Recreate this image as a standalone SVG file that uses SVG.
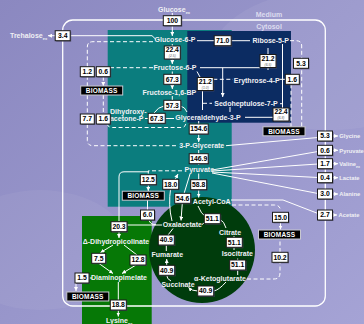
<svg xmlns="http://www.w3.org/2000/svg" width="364" height="324" viewBox="0 0 364 324">
<defs>
<linearGradient id="bg" x1="0" y1="0" x2="1" y2="1">
<stop offset="0" stop-color="#8b88c0"/>
<stop offset="0.5" stop-color="#9896cb"/>
<stop offset="1" stop-color="#a5a3d5"/>
</linearGradient>
<marker id="ah" viewBox="0 0 6 6" refX="6" refY="3" markerWidth="4" markerHeight="4" orient="auto" markerUnits="userSpaceOnUse">
<path d="M0,0 L6,3 L0,6 z" fill="#fff"/>
</marker>
<style>
.l{font-family:"Liberation Sans",Arial,sans-serif;font-weight:bold;font-size:7px;fill:#f0f0f4;text-anchor:middle}
.ls{font-family:"Liberation Sans",Arial,sans-serif;font-weight:bold;font-size:7px;fill:#f0f0f4}
.ex{font-family:"Liberation Sans",Arial,sans-serif;font-weight:bold;font-size:5.8px;fill:#f0f0f4}
.hd{font-family:"Liberation Sans",Arial,sans-serif;font-weight:bold;font-size:7px;fill:#dcdcef;text-anchor:middle}
.n{font-family:"Liberation Sans",Arial,sans-serif;font-weight:bold;font-size:6.8px;fill:#000;text-anchor:middle}
.s{font-family:"Liberation Sans",Arial,sans-serif;font-style:italic;font-size:3.4px;fill:#666;text-anchor:middle}
.bx{fill:#fff;stroke:#1a1a1a;stroke-width:1}
.sh{fill:#4b4a66;opacity:0.7}
.bm{fill:#000;stroke:#c8c8d0;stroke-width:1}
.bt{font-family:"Liberation Sans",Arial,sans-serif;font-weight:bold;font-size:6.5px;fill:#fff;text-anchor:middle;letter-spacing:0.2px}
.c{stroke:#fff;stroke-width:1;fill:none}
.d{stroke:#fff;stroke-width:1;fill:none;stroke-dasharray:4 2.5}
.a{marker-end:url(#ah)}
</style>
</defs>
<rect width="364" height="324" fill="url(#bg)"/>
<ellipse cx="330" cy="60" rx="120" ry="70" fill="#fff" opacity="0.06"/>
<ellipse cx="40" cy="250" rx="90" ry="60" fill="#fff" opacity="0.05"/>

<g id="regions">
<rect id="glycolysis" x="107.7" y="30" width="124" height="176.7" fill="#0b7d7e"/>
<rect id="ppp" x="187.3" y="31" width="103.7" height="91.7" fill="#0c2c62"/>
<rect id="lysine" x="82" y="216" width="69.7" height="108" fill="#067806"/>
<circle id="tca" cx="202" cy="250" r="53" fill="#003c0c"/>
</g>
<rect id="membrane" x="62.7" y="20" width="262.6" height="286" rx="10" fill="none" stroke="#fff" stroke-width="1.3"/>

<g id="connectors">
<path class="c a" d="M172.3,13 V36"/>
<path class="c a" d="M156,39.5 L152,35.7 H48"/>
<path class="c" d="M197,40.7 H250"/>
<path class="c a" d="M172.3,44 V64"/>
<path class="c a" d="M172.3,71.5 V89"/>
<path class="c" d="M172.3,96 V100"/>
<path class="c" d="M164,106 Q158,107 154,113"/>
<path class="c" d="M180.5,106 Q185,107 187,112"/>
<path class="c" d="M145,118.5 H174"/>
<path class="c a" d="M198.7,121 V142"/>
<path class="c a" d="M198.7,150 V165"/>
<path class="c a" d="M198.7,173.5 V197.5"/>
<path class="c a" d="M190,174 L182.7,198 L181,220.5"/>
<path class="c a" d="M172,221 Q168,205 170.7,188 L178,174"/>
<path class="c" d="M119,221 V177 Q119,171.8 124,171.8 H149"/>
<path class="d" d="M182,170.8 H148.3 V175"/>
<path class="c a" d="M148.3,184.7 V191"/>
<path class="c" d="M162,225 H127"/>
<path class="c" d="M147.5,200 V210 M149,220 Q150,224.5 156,224.8"/>
<path class="c" d="M198,206 Q201,214 206,217 M220,219.5 Q224,221 226,228"/>
<path class="c" d="M202,224.5 L205.5,222"/>
<path class="c" d="M234,236 V250"/>
<path class="c" d="M237.7,258.5 V275"/>
<path class="c a" d="M226,282 Q219,290 213.7,291 M197.7,291 Q192,291 188.5,287.5"/>
<path class="c a" d="M171,281 Q166.7,279 166.7,275 M166.7,265.3 V259"/>
<path class="c" d="M166.3,251 V245 M168,235 L173,228.5"/>
<path class="c" d="M200,67.7 H260"/>
<path class="c a" d="M222.7,67.7 V97"/>
<path class="c" d="M268,48 V70"/>
<path class="c" d="M282.5,44 V108"/>
<path class="c" d="M197,71.5 L200,77"/>
<path class="d" d="M213.3,79.3 H233"/>
<path class="c" d="M202.5,90.5 V110"/>
<path class="d" d="M203,103.3 H212"/>
<path class="c" d="M280,103.7 H282.5"/>
<path class="c" d="M230,107 V112"/>
<path class="c" d="M245,117.3 H273"/>
<path class="c" d="M279.5,79.3 H285"/>
<path class="d" d="M290,40.7 H296 Q301.7,40.7 301.7,46 V127"/>
<path class="d" d="M291,84.3 V127"/>
<path class="d" d="M153,41.7 H93 Q87.3,41.7 87.3,47 V114 M87.3,124 V140 Q87.3,145.7 93,145.7 H178"/>
<path class="d" d="M153,67.7 H110"/>
<path class="d a" d="M103.3,76.7 V86"/>
<path class="d" d="M103.3,95 V114"/>
<path class="d" d="M107,124 Q108,127.5 113,127.5 H181 Q186,127.5 186,122"/>
<path class="c" d="M226,145.7 L318,137.5"/>
<path class="c" d="M212,170 L318,151.5 M212,171 L318,164 M212,172 L318,177.5 M212,173 L318,193.5"/>
<path class="c" d="M231,200 H283 L318,213.5"/>
<path class="c a" d="M332.5,136 H338"/>
<path class="c a" d="M332.5,150.3 H338"/>
<path class="c a" d="M332.5,163.7 H338"/>
<path class="c a" d="M332.5,177.7 H338"/>
<path class="c a" d="M332.5,194 H338"/>
<path class="c a" d="M332.5,215 H337"/>
<path class="d" d="M232,205 H274 Q280.5,205 280.5,211"/>
<path class="c a" d="M280.5,222.5 V229.5"/>
<path class="d" d="M247,279 H274 Q280,279 280,273 V262.5 M280,252 V239"/>
<path class="c a" d="M119,232 V238"/>
<path class="c a" d="M113,245 L100.5,252.5"/>
<path class="c" d="M124,245 L137,255"/>
<path class="c a" d="M99,263.5 L113,273.5"/>
<path class="c a" d="M136,265 L122,273.5"/>
<path class="c" d="M89,278 H92"/>
<path class="d a" d="M76,283 V291"/>
<path class="c" d="M118.3,282 V300"/>
<path class="c a" d="M118.3,310 V316.5"/>
</g>

<g id="labels">
<text class="hd" x="269" y="17">Medium</text>
<text class="hd" x="269" y="29">Cytosol</text>
<text id="glc-ex" class="ls" x="158" y="11.5">Glucose<tspan font-size="4" dy="2">ex</tspan></text>
<text id="tre-ex" class="ls" x="10" y="38">Trehalose<tspan font-size="4" dy="2">ex</tspan></text>
<text id="g6p" class="l" x="175" y="42.2">Glucose-6-P</text>
<text id="r5p" class="l" x="270.7" y="43.2">Ribose-5-P</text>
<text id="f6p" class="l" x="175" y="70.2">Fructose-6-P</text>
<text id="e4p" class="l" x="256.7" y="82.5">Erythrose-4-P</text>
<text id="fbp" class="l" x="169.3" y="95.2">Fructose-1,6-BP</text>
<text id="s7p" class="l" x="246" y="106.2">Sedoheptulose-7-P</text>
<text id="dhap" class="l" x="128.3" y="113.5">Dihydroxy-<tspan x="126.7" y="121.2">acetone-P</tspan></text>
<text id="gap" class="l" x="208" y="119.8">Glyceraldehyde-3-P</text>
<text id="pg3" class="l" x="201.7" y="148.2">3-P-Glycerate</text>
<text id="pyr" class="l" x="199.3" y="171.8">Pyruvate</text>
<text id="accoa" class="l" x="211.7" y="204.2">Acetyl-CoA</text>
<text id="oaa" class="l" x="182.3" y="227.2">Oxalacetate</text>
<text id="cit" class="l" x="230" y="234.8">Citrate</text>
<text id="icit" class="l" x="237.3" y="256.2">Isocitrate</text>
<text id="fum" class="l" x="167.3" y="257.2">Fumarate</text>
<text id="akg" class="l" x="220" y="281.2">α-Ketoglutarate</text>
<text id="suc" class="l" x="178" y="287.2">Succinate</text>
<text id="dhp" class="l" x="116" y="243.8">Δ-Dihydropicolinate</text>
<text id="dap" class="l" x="119" y="280.2">Diaminopimelate</text>
<text id="lys" class="ls" x="106" y="322.5">Lysine<tspan font-size="4" dy="2">ex</tspan></text>
<text id="gly-ex" class="ex" x="339.3" y="138.2">Glycine</text>
<text id="pyr-ex" class="ex" x="339.3" y="152.5">Pyruvate</text>
<text id="val-ex" class="ex" x="339.3" y="165.9">Valine<tspan font-size="3.6" dy="1.8">ex</tspan></text>
<text id="lac-ex" class="ex" x="339.3" y="179.9">Lactate</text>
<text id="ala-ex" class="ex" x="339.3" y="196.2">Alanine</text>
<text id="ace-ex" class="ex" x="338.5" y="217.2">Acetate</text>
</g>

<g id="biomass">
<g id="bm1"><rect class="bm" x="80.7" y="86" width="42" height="9"/><text class="bt" x="101.7" y="92.8">BIOMASS</text></g>
<g id="bm2"><rect class="bm" x="263" y="126.8" width="42" height="9"/><text class="bt" x="284" y="133.6">BIOMASS</text></g>
<g id="bm3"><rect class="bm" x="122.3" y="191.2" width="42" height="9"/><text class="bt" x="143.3" y="198">BIOMASS</text></g>
<g id="bm4"><rect class="bm" x="258.5" y="230" width="42" height="9"/><text class="bt" x="279.5" y="236.8">BIOMASS</text></g>
<g id="bm5"><rect class="bm" x="66.8" y="292" width="42" height="9"/><text class="bt" x="87.8" y="298.8">BIOMASS</text></g>
</g>

<g id="fluxes">
<g id="f1"><rect class="sh" x="164.3" y="16.7" width="18" height="10"/><rect class="bx" x="163.3" y="15.7" width="18" height="10"/><text class="n" x="172.3" y="23">100</text></g>
<g id="f2"><rect class="sh" x="56.2" y="31.7" width="15" height="10"/><rect class="bx" x="55.2" y="30.7" width="15" height="10"/><text class="n" x="62.7" y="38">3.4</text></g>
<g id="f3"><rect class="sh" x="215.2" y="36.7" width="17" height="10"/><rect class="bx" x="214.2" y="35.7" width="17" height="10"/><text class="n" x="222.7" y="43">71.0</text></g>
<g id="f4"><rect class="sh" x="165.3" y="47" width="16" height="13"/><rect class="bx" x="164.3" y="46" width="16" height="13"/><text class="n" x="172.3" y="52.3">22.4</text><text class="s" x="172.3" y="57.2">(2.5)</text></g>
<g id="f5"><rect class="sh" x="294.5" y="59.3" width="15" height="10"/><rect class="bx" x="293.5" y="58.3" width="15" height="10"/><text class="n" x="301" y="65.6">5.3</text></g>
<g id="f6"><rect class="sh" x="261" y="55.5" width="16" height="13"/><rect class="bx" x="260" y="54.5" width="16" height="13"/><text class="n" x="268" y="60.8">21.2</text><text class="s" x="268" y="65.7">(6.5)</text></g>
<g id="f7"><rect class="sh" x="81.3" y="67.7" width="14" height="10"/><rect class="bx" x="80.3" y="66.7" width="14" height="10"/><text class="n" x="87.3" y="74">1.2</text></g>
<g id="f8"><rect class="sh" x="97.3" y="67.7" width="14" height="10"/><rect class="bx" x="96.3" y="66.7" width="14" height="10"/><text class="n" x="103.3" y="74">0.6</text></g>
<g id="f9"><rect class="sh" x="164.8" y="75.3" width="17" height="10"/><rect class="bx" x="163.8" y="74.3" width="17" height="10"/><text class="n" x="172.3" y="81.6">67.3</text></g>
<g id="f10"><rect class="sh" x="198.3" y="78.5" width="16" height="13"/><rect class="bx" x="197.3" y="77.5" width="16" height="13"/><text class="n" x="205.3" y="83.8">21.2</text><text class="s" x="205.3" y="88.7">(1.0)</text></g>
<g id="f11"><rect class="sh" x="286.3" y="75.3" width="14" height="10"/><rect class="bx" x="285.3" y="74.3" width="14" height="10"/><text class="n" x="292.3" y="81.6">1.6</text></g>
<g id="f12"><rect class="sh" x="164.8" y="101.3" width="17" height="10"/><rect class="bx" x="163.8" y="100.3" width="17" height="10"/><text class="n" x="172.3" y="107.6">57.3</text></g>
<g id="f13"><rect class="sh" x="81.3" y="115" width="14" height="10"/><rect class="bx" x="80.3" y="114" width="14" height="10"/><text class="n" x="87.3" y="121.3">7.7</text></g>
<g id="f14"><rect class="sh" x="97.3" y="115" width="14" height="10"/><rect class="bx" x="96.3" y="114" width="14" height="10"/><text class="n" x="103.3" y="121.3">1.6</text></g>
<g id="f15"><rect class="sh" x="149.2" y="114.3" width="17" height="10"/><rect class="bx" x="148.2" y="113.3" width="17" height="10"/><text class="n" x="156.7" y="120.6">67.3</text></g>
<g id="f16"><rect class="sh" x="274" y="109" width="16" height="13"/><rect class="bx" x="273" y="108" width="16" height="13"/><text class="n" x="281" y="114.3">22.4</text><text class="s" x="281" y="119.2">(6.8)</text></g>
<g id="f17"><rect class="sh" x="190.2" y="125" width="19" height="10"/><rect class="bx" x="189.2" y="124" width="19" height="10"/><text class="n" x="198.7" y="131.3">154.6</text></g>
<g id="f18"><rect class="sh" x="318.5" y="132" width="15" height="10"/><rect class="bx" x="317.5" y="131" width="15" height="10"/><text class="n" x="325" y="138.3">5.3</text></g>
<g id="f19"><rect class="sh" x="318.5" y="146.3" width="15" height="10"/><rect class="bx" x="317.5" y="145.3" width="15" height="10"/><text class="n" x="325" y="152.6">0.6</text></g>
<g id="f20"><rect class="sh" x="318.5" y="159.7" width="15" height="10"/><rect class="bx" x="317.5" y="158.7" width="15" height="10"/><text class="n" x="325" y="166">1.7</text></g>
<g id="f21"><rect class="sh" x="318.5" y="173.7" width="15" height="10"/><rect class="bx" x="317.5" y="172.7" width="15" height="10"/><text class="n" x="325" y="180">0.4</text></g>
<g id="f22"><rect class="sh" x="318.5" y="190" width="15" height="10"/><rect class="bx" x="317.5" y="189" width="15" height="10"/><text class="n" x="325" y="196.3">3.0</text></g>
<g id="f23"><rect class="sh" x="318.5" y="211" width="15" height="10"/><rect class="bx" x="317.5" y="210" width="15" height="10"/><text class="n" x="325" y="217.3">2.7</text></g>
<g id="f24"><rect class="sh" x="190.2" y="154.7" width="19" height="10"/><rect class="bx" x="189.2" y="153.7" width="19" height="10"/><text class="n" x="198.7" y="161">146.9</text></g>
<g id="f25"><rect class="sh" x="141.3" y="175.7" width="16" height="10"/><rect class="bx" x="140.3" y="174.7" width="16" height="10"/><text class="n" x="148.3" y="182">12.5</text></g>
<g id="f26"><rect class="sh" x="163.7" y="180.3" width="16" height="10"/><rect class="bx" x="162.7" y="179.3" width="16" height="10"/><text class="n" x="170.7" y="186.6">18.0</text></g>
<g id="f27"><rect class="sh" x="191.7" y="180.7" width="16" height="10"/><rect class="bx" x="190.7" y="179.7" width="16" height="10"/><text class="n" x="198.7" y="187">58.8</text></g>
<g id="f28"><rect class="sh" x="175.7" y="194.3" width="16" height="10"/><rect class="bx" x="174.7" y="193.3" width="16" height="10"/><text class="n" x="182.7" y="200.6">54.6</text></g>
<g id="f29"><rect class="sh" x="141.5" y="211" width="14" height="10"/><rect class="bx" x="140.5" y="210" width="14" height="10"/><text class="n" x="147.5" y="217.3">6.0</text></g>
<g id="f30"><rect class="sh" x="205.3" y="214.7" width="16" height="10"/><rect class="bx" x="204.3" y="213.7" width="16" height="10"/><text class="n" x="212.3" y="221">51.1</text></g>
<g id="f31"><rect class="sh" x="273.5" y="213.3" width="16" height="10"/><rect class="bx" x="272.5" y="212.3" width="16" height="10"/><text class="n" x="280.5" y="219.6">15.0</text></g>
<g id="f32"><rect class="sh" x="112" y="222.7" width="16" height="10"/><rect class="bx" x="111" y="221.7" width="16" height="10"/><text class="n" x="119" y="229">20.3</text></g>
<g id="f33"><rect class="sh" x="159.3" y="236" width="16" height="10"/><rect class="bx" x="158.3" y="235" width="16" height="10"/><text class="n" x="166.3" y="242.3">40.9</text></g>
<g id="f34"><rect class="sh" x="227.3" y="238.3" width="16" height="10"/><rect class="bx" x="226.3" y="237.3" width="16" height="10"/><text class="n" x="234.3" y="244.6">51.1</text></g>
<g id="f35"><rect class="sh" x="273" y="253.3" width="16" height="10"/><rect class="bx" x="272" y="252.3" width="16" height="10"/><text class="n" x="280" y="259.6">10.2</text></g>
<g id="f36"><rect class="sh" x="92.7" y="254.3" width="14" height="10"/><rect class="bx" x="91.7" y="253.3" width="14" height="10"/><text class="n" x="98.7" y="260.6">7.5</text></g>
<g id="f37"><rect class="sh" x="131" y="256" width="16" height="10"/><rect class="bx" x="130" y="255" width="16" height="10"/><text class="n" x="138" y="262.3">12.8</text></g>
<g id="f38"><rect class="sh" x="230.7" y="261" width="16" height="10"/><rect class="bx" x="229.7" y="260" width="16" height="10"/><text class="n" x="237.7" y="267.3">51.1</text></g>
<g id="f39"><rect class="sh" x="159.7" y="266.3" width="16" height="10"/><rect class="bx" x="158.7" y="265.3" width="16" height="10"/><text class="n" x="166.7" y="272.6">40.9</text></g>
<g id="f40"><rect class="sh" x="76" y="274" width="14" height="10"/><rect class="bx" x="75" y="273" width="14" height="10"/><text class="n" x="82" y="280.3">1.5</text></g>
<g id="f41"><rect class="sh" x="198.7" y="287" width="16" height="10"/><rect class="bx" x="197.7" y="286" width="16" height="10"/><text class="n" x="205.7" y="293.3">40.9</text></g>
<g id="f42"><rect class="sh" x="111.3" y="301" width="16" height="10"/><rect class="bx" x="110.3" y="300" width="16" height="10"/><text class="n" x="118.3" y="307.3">18.8</text></g>
</g>
</svg>
